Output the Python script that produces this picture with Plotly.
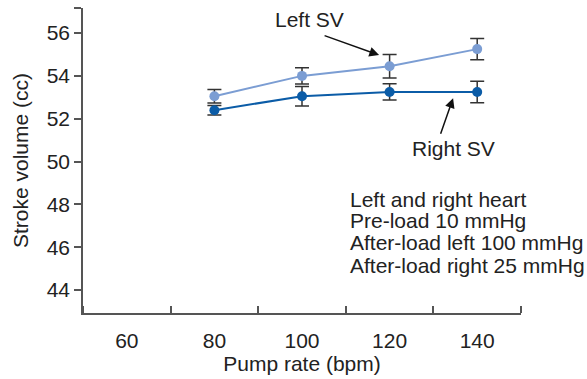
import plotly.graph_objects as go

pump_rate = [80, 100, 120, 140]
left_sv = [53.05, 54.0, 54.45, 55.25]
left_err = [0.32, 0.38, 0.55, 0.5]
right_sv = [52.4, 53.05, 53.25, 53.25]
right_err = [0.22, 0.45, 0.38, 0.5]

x_tick_labels = [60, 80, 100, 120, 140]
y_tick_vals = [44, 46, 48, 50, 52, 54, 56]
note_lines = ["Left and right heart", "Pre-load 10 mmHg",
              "After-load left 100 mmHg", "After-load right 25 mmHg"]
note_y = [48.21, 47.23, 46.2, 45.17]

LIGHT = "#7b9dd3"
DARK = "#0b5ca7"
FONT = "Liberation Sans, Arial, sans-serif"
FS = 21

fig = go.Figure()
for y, err, col in [(left_sv, left_err, LIGHT), (right_sv, right_err, DARK)]:
    fig.add_trace(go.Scatter(
        x=pump_rate, y=y, mode="lines+markers",
        line=dict(color=col, width=2),
        marker=dict(color=col, size=10),
        error_y=dict(type="data", array=err, visible=True, color="#333333", thickness=1.5, width=7),
        showlegend=False,
    ))

ymin, ymax = 42.93, 57.17
fig.update_layout(
    width=587, height=379,
    margin=dict(l=83, r=66, t=8, b=66),
    paper_bgcolor="white", plot_bgcolor="white",
    font=dict(family=FONT, size=FS, color="#222222"),
    xaxis=dict(
        range=[50, 150], tickmode="array", tickvals=x_tick_labels,
        ticktext=[str(v) for v in x_tick_labels], ticks="",
        ticklabelstandoff=8,
        showline=True, linecolor="#555555", linewidth=1.5,
        showgrid=False, zeroline=False,
        minor=dict(tickmode="linear", tick0=70, dtick=20, ticks="inside", ticklen=7,
                   tickwidth=1.5, tickcolor="#555555", showgrid=False),
        title=dict(text="Pump rate (bpm)", standoff=2, font=dict(size=FS)),
        tickfont=dict(size=FS),
    ),
    yaxis=dict(
        range=[ymin, ymax], tickmode="array", tickvals=y_tick_vals + [ymax],
        ticktext=[str(v) for v in y_tick_vals] + [""], ticks="outside", ticklen=7,
        tickwidth=1.5, tickcolor="#555555",
        showline=True, linecolor="#555555", linewidth=1.5,
        showgrid=False, zeroline=False,
        title=dict(text="Stroke volume (cc)", standoff=12, font=dict(size=FS)),
        tickfont=dict(size=FS),
    ),
)

# labels
fig.add_annotation(x=101.8, y=56.61, text="Left SV", showarrow=False, font=dict(size=FS))
fig.add_annotation(x=134.5, y=50.63, text="Right SV", showarrow=False, font=dict(size=FS))
fig.add_annotation(x=117.6, y=54.97, text="", showarrow=True, axref="pixel", ayref="pixel",
                   ax=-56, ay=-20, arrowhead=2, arrowsize=1.3, arrowwidth=1.5, arrowcolor="#111111")
fig.add_annotation(x=134.5, y=52.96, text="", showarrow=True, axref="pixel", ayref="pixel",
                   ax=-13, ay=37, arrowhead=2, arrowsize=1.3, arrowwidth=1.5, arrowcolor="#111111")
for line, yv in zip(note_lines, note_y):
    fig.add_annotation(x=110.5, y=yv, xanchor="left", yanchor="middle", align="left",
                       text=line, showarrow=False, font=dict(size=FS))

fig.write_html("out.html")
